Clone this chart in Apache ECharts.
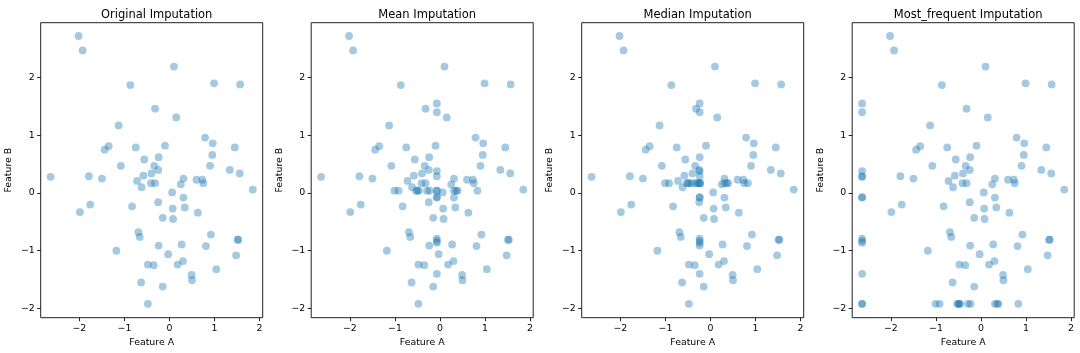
<!DOCTYPE html>
<html><head><meta charset="utf-8">
<script src="https://cdn.jsdelivr.net/npm/echarts@6/dist/echarts.min.js"></script>
<style>html,body{margin:0;padding:0;background:#fff}#c{width:1080px;height:353px}</style>
</head><body><div id="c"></div>
<script>
// Raw dataset (null = missing value)
const featureA = [
 -2.02,-1.93,0.10,-0.87,0.99,1.57,-0.32,0.15,-1.13,0.79,
 0.96,-1.35,-1.44,-0.75,-0.10,1.45,0.95,-0.56,-0.24,-1.08,
 -0.34,0.90,-0.25,1.34,1.56,-0.40,-0.58,-2.64,-1.79,-1.50,
 0.31,-0.72,-0.41,-0.32,0.60,0.73,0.75,0.25,-0.62,1.85,
 0.06,0.31,-0.25,-1.99,-1.76,-0.83,0.07,0.34,0.63,-0.15,
 0.08,-0.69,-0.66,0.92,1.51,1.53,-1.18,-0.24,0.27,0.81,
 -0.03,1.48,0.30,0.18,-0.48,-0.35,1.04,0.49,0.50,-0.63,
 -0.15,-0.48,
 null,null,null,null,null,null,null,null,null,null,
 -1.01,-0.92,-0.53,-0.50,-0.47,-0.29,-0.23,0.31,0.36,0.39,0.83,
 null,null
];
const featureB = [
 2.72,2.47,2.19,1.87,1.90,1.88,1.46,1.31,1.17,0.96,
 0.86,0.81,0.75,0.79,0.82,0.79,0.66,0.58,0.62,0.47,
 0.47,0.47,0.40,0.40,0.34,0.34,0.30,0.28,0.29,0.25,
 0.25,0.21,0.17,0.17,0.23,0.23,0.17,0.15,0.10,0.06,
 0.01,-0.08,-0.16,-0.33,-0.20,-0.23,-0.27,-0.25,-0.34,-0.43,
 -0.45,-0.68,-0.76,-0.72,-0.81,-0.81,-1.00,-0.91,-0.89,-0.92,
 -1.06,-1.08,-1.18,-1.24,-1.24,-1.25,-1.32,-1.42,-1.51,-1.55,
 -1.62,-1.92,
 1.55,1.40,0.38,0.29,-0.07,-0.08,-0.79,-0.83,-0.86,-1.40,
 null,null,null,null,null,null,null,null,null,null,null,
 null,null
];
const titles = ['Original Imputation','Mean Imputation','Median Imputation','Most_frequent Imputation'];
// fill values used by each strategy (null = drop incomplete rows)
const fillA = [null, -0.07, -0.24, -2.64];
const fillB = [null, 0.04, 0.17, -1.92];
const tickValues = [-2,-1,0,1,2];

const FONT = 'DejaVu Sans';
const lefts = [40.7, 311.2, 581.7, 852.2];
const W = 222, TOP = 22.7, H = 295;

function buildData(i){
  const out = [];
  for (let k = 0; k < featureA.length; k++){
    let a = featureA[k], b = featureB[k];
    if (fillA[i] === null){
      if (a === null || b === null) continue;
    } else {
      if (a === null) a = fillA[i];
      if (b === null) b = fillB[i];
    }
    out.push([a, b]);
  }
  return out;
}

const grids = [], xAxes = [], yAxes = [], series = [], title = [];
for (let i = 0; i < 4; i++){
  grids.push({left: lefts[i], top: TOP, width: W, height: H, show: true,
    borderColor: '#222', borderWidth: 1, backgroundColor: 'transparent'});
  title.push({text: titles[i], left: lefts[i] + W/2, textAlign: 'center', top: 4,
    textStyle: {fontFamily: FONT, fontSize: 11.5, fontWeight: 'normal', color: '#000'}});
  const axCommon = {
    type: 'value', gridIndex: i,
    axisLine: {show: false, onZero: false}, splitLine: {show: false},
    axisTick: {show: true, length: 3.5, lineStyle: {color: '#222'}, customValues: tickValues},
    axisLabel: {color: '#000', fontFamily: FONT, fontSize: 9.4, margin: 6, customValues: tickValues,
      formatter: v => (v < 0 ? '\u2212' + Math.abs(v) : String(v))},
    nameTextStyle: {fontFamily: FONT, fontSize: 9.4, color: '#000'}
  };
  xAxes.push(Object.assign({}, axCommon, {position: 'bottom', min: -2.86, max: 2.07, name: 'Feature A',
    nameLocation: 'middle', nameGap: 18.5}));
  yAxes.push(Object.assign({}, axCommon, {position: 'left', min: -2.16, max: 2.95, name: 'Feature B',
    nameLocation: 'middle', nameGap: 27.5}));
  series.push({type: 'scatter', xAxisIndex: i, yAxisIndex: i, data: buildData(i),
    symbolSize: 7.8, itemStyle: {color: 'rgba(31,119,180,0.5)'}, silent: true, animation: false});
}

const chart = echarts.init(document.getElementById('c'), null, {renderer: 'canvas'});
chart.setOption({backgroundColor: '#fff', animation: false, title, grid: grids, xAxis: xAxes, yAxis: yAxes, series});
</script>
</body></html>
